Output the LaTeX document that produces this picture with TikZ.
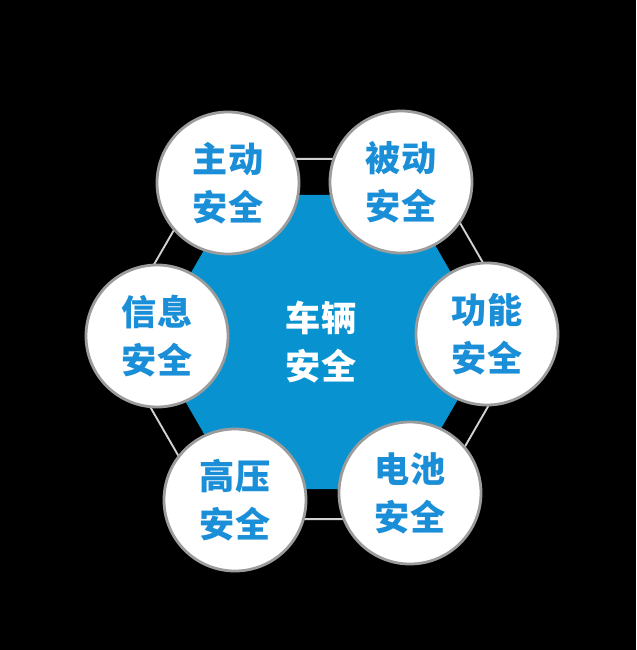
\documentclass[tikz,border=0pt]{standalone}
\usepackage{fontspec}
\usepackage{tikz}
\usetikzlibrary{shapes.geometric}
\newfontfamily\cjk{Noto Sans CJK SC}
\definecolor{hexblue}{HTML}{0893D0}
\definecolor{textblue}{HTML}{1A8FD8}
\definecolor{ringgray}{HTML}{9C9C9C}
\definecolor{linegray}{HTML}{D2D2D2}

\tikzset{
  safety/.style={circle, fill=white, draw=ringgray, line width=2.4pt,
    minimum size=4.26cm, inner sep=0pt, align=center, text=textblue,
    font=\cjk\bfseries\fontsize{30}{41}\selectfont},
  hexbox/.style={regular polygon, regular polygon sides=6, inner sep=0pt}
}

\begin{document}
\begin{tikzpicture}[x=0.03cm, y=-0.03cm]

\fill[black] (0,0) rectangle (636,650);
\useasboundingbox (0,0) rectangle (636,650);

\node[hexbox, draw=linegray, line width=1.6pt, minimum size=12.48cm] (frame) at (319,339) {};

\node[hexbox, fill=hexblue, minimum size=10.2cm, align=center, text=white,
  font=\cjk\bfseries\fontsize{30}{41}\selectfont] (vehicle) at (321,342) {车辆\\安全};

\node[safety] (active) at (228,183) {主动\\安全};
\node[safety] (passive) at (401,182) {被动\\安全};
\node[safety] (info) at (157,336) {信息\\安全};
\node[safety] (func) at (487,334) {功能\\安全};
\node[safety] (hv) at (235,500) {高压\\安全};
\node[safety] (battery) at (410,493) {电池\\安全};

\end{tikzpicture}
\end{document}
